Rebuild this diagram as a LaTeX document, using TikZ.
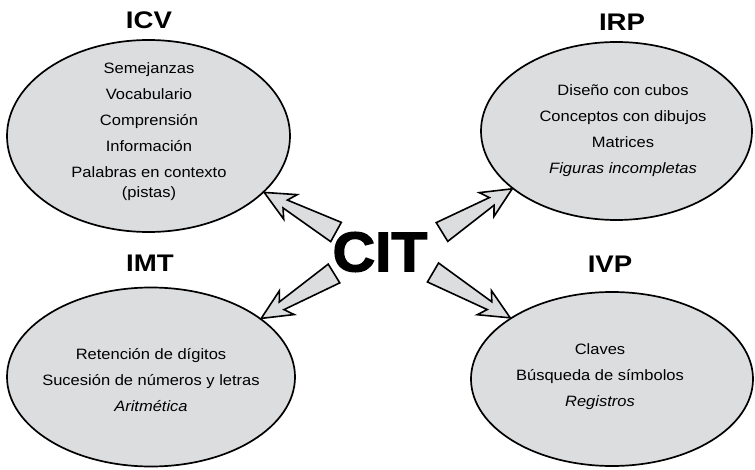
\documentclass[tikz,border=0pt]{standalone}
\usepackage{fontspec}
\setmainfont{Liberation Sans}[FakeStretch=1.1]
\newfontfamily\titulofont{Liberation Sans}[FakeStretch=1.15]
\newfontfamily\citfont{Liberation Sans}[FakeStretch=1.05,FakeBold=2.5]
\usetikzlibrary{shapes.geometric,calc}
\definecolor{grisfondo}{RGB}{220,221,223}

% Flecha gruesa con punta dentada: #1 = cola, #2 = punta
\newcommand{\flecha}[2]{%
  \draw[flechagruesa] (#2)
    -- ($(#2)!30pt!(#1)!14pt!90:(#1)$)
    -- ($(#2)!24pt!(#1)!4.5pt!90:(#1)$)
    -- ($(#1)!11pt!-90:(#2)$)
    -- ($(#1)!11pt!90:(#2)$)
    -- ($(#2)!24pt!(#1)!4.5pt!-90:(#1)$)
    -- ($(#2)!30pt!(#1)!14pt!-90:(#1)$)
    -- cycle;}

\begin{document}
\begin{tikzpicture}[x=1pt, y=1pt,
    elipse/.style={ellipse, draw=black, line width=1.7pt, fill=grisfondo, inner sep=0pt},
    lista/.style={align=center, font=\fontsize{15}{26}\selectfont},
    titulo/.style={font=\titulofont\bfseries\fontsize{24}{28}\selectfont},
    flechagruesa/.style={draw=black, line width=1.6pt, line join=miter, fill=grisfondo}]
    \useasboundingbox (0, 0) rectangle (755, 469);

    % 1. Las cuatro elipses
    \node[elipse, minimum width=283, minimum height=192] (icv) at (148.5, 333) {};
    \node[elipse, minimum width=271, minimum height=178] (irp) at (616.5, 338) {};
    \node[elipse, minimum width=288, minimum height=179] (imt) at (151, 92) {};
    \node[elipse, minimum width=282, minimum height=174] (ivp) at (612, 90) {};

    % 2. Titulos
    \node[titulo] (icvtitulo) at (149, 449) {ICV};
    \node[titulo] (irptitulo) at (622, 447) {IRP};
    \node[titulo] (imttitulo) at (150, 206) {IMT};
    \node[titulo] (ivptitulo) at (610, 205) {IVP};

    % 3. Contenido de cada elipse
    \node[lista] (icvtexto) at (149, 337) {Semejanzas\\ Vocabulario\\ Comprensión\\ Información\\
        Palabras en contexto\\[-6pt] (pistas)};
    \node[lista] (irptexto) at (623, 338.5) {Diseño con cubos\\ Conceptos con dibujos\\ Matrices\\
        \textit{Figuras incompletas}};
    \node[lista] (imttexto) at (151, 88.5) {Retención de dígitos\\ Sucesión de números y letras\\
        \textit{Aritmética}};
    \node[lista] (ivptexto) at (600, 92) {Claves\\ Búsqueda de símbolos\\ \textit{Registros}};

    % 4. CIT en el centro
    \node[font=\citfont\bfseries\fontsize{56}{60}\selectfont, inner sep=0pt] (cit) at (380, 217) {CIT};

    % 5. Colas de las flechas
    \coordinate (colaicv) at ($(cit)+(-44, 20)$);
    \coordinate (colairp) at ($(cit)+(62, 20)$);
    \coordinate (colaimt) at ($(cit)+(-46, -21.5)$);
    \coordinate (colaivp) at ($(cit)+(53, -20.5)$);

    % 6. Flechas
    \flecha{colaicv}{icv.-26.3}
    \flecha{colairp}{irp.209.3}
    \flecha{colaimt}{imt.28.8}
    \flecha{colaivp}{ivp.149.2}

\end{tikzpicture}
\end{document}
